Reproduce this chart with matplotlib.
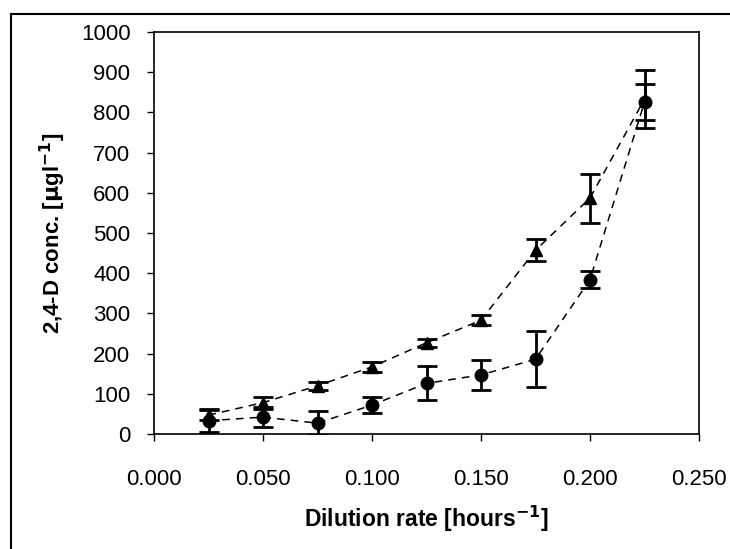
import matplotlib.pyplot as plt
from matplotlib.lines import Line2D

plt.rcParams["font.family"] = ["Liberation Sans", "DejaVu Sans"]

# dilution rate [1/h]
rate = [0.025, 0.050, 0.075, 0.100, 0.125, 0.150, 0.175, 0.200, 0.225]
# triangles
tri_y = [47, 78, 120, 167, 227, 283, 457, 587, 833]
tri_err = [12, 15, 10, 12, 10, 12, 27, 61, 72]
# circles
circ_y = [33, 42, 27, 72, 126, 147, 186, 384, 826]
circ_err = [28, 25, 30, 20, 42, 38, 70, 22, 45]

fig = plt.figure(figsize=(7.3, 5.49), dpi=100)
ax = fig.add_axes([154 / 730, 1 - 434 / 549, 545 / 730, 402 / 549])

ax.errorbar(rate, tri_y, yerr=tri_err, fmt="^", color="black", ms=9,
            elinewidth=2, capsize=7, capthick=2, zorder=3)
ax.plot(rate, tri_y, ls=(0, (5, 4)), color="black", lw=1.1, zorder=2)
ax.errorbar(rate, circ_y, yerr=circ_err, fmt="o", color="black", ms=9,
            elinewidth=2, capsize=7, capthick=2, zorder=3)
ax.plot(rate, circ_y, ls=(0, (5, 4)), color="black", lw=1.1, zorder=2)

ax.set_xlim(0, 0.25)
ax.set_ylim(0, 1000)
ax.set_xticks([0.0, 0.05, 0.10, 0.15, 0.20, 0.25])
ax.set_xticklabels(["0.000", "0.050", "0.100", "0.150", "0.200", "0.250"])
ax.set_yticks(range(0, 1001, 100))
ax.tick_params(direction="out", length=5, width=1, labelsize=16)
ax.tick_params(axis="x", pad=20)
ax.tick_params(axis="y", pad=12)
for s in ax.spines.values():
    s.set_linewidth(1.2)

ax.set_xlabel(r"Dilution rate [hours$^{\mathbf{-1}}$]", fontsize=16.5,
              fontweight="bold", labelpad=10)
ax.set_ylabel(r"2,4-D conc. [$\mathbf{\mu}$gl$^{\mathbf{-1}}$]", fontsize=16,
              fontweight="bold", labelpad=9)

# outer frame of the original figure (top and left edges)
fig.add_artist(Line2D([11 / 730, 1], [1 - 14 / 549, 1 - 14 / 549],
                      transform=fig.transFigure, color="black", lw=1.5))
fig.add_artist(Line2D([11 / 730, 11 / 730], [0, 1 - 14 / 549],
                      transform=fig.transFigure, color="black", lw=1.5))

fig.savefig("out.png", dpi=100)
